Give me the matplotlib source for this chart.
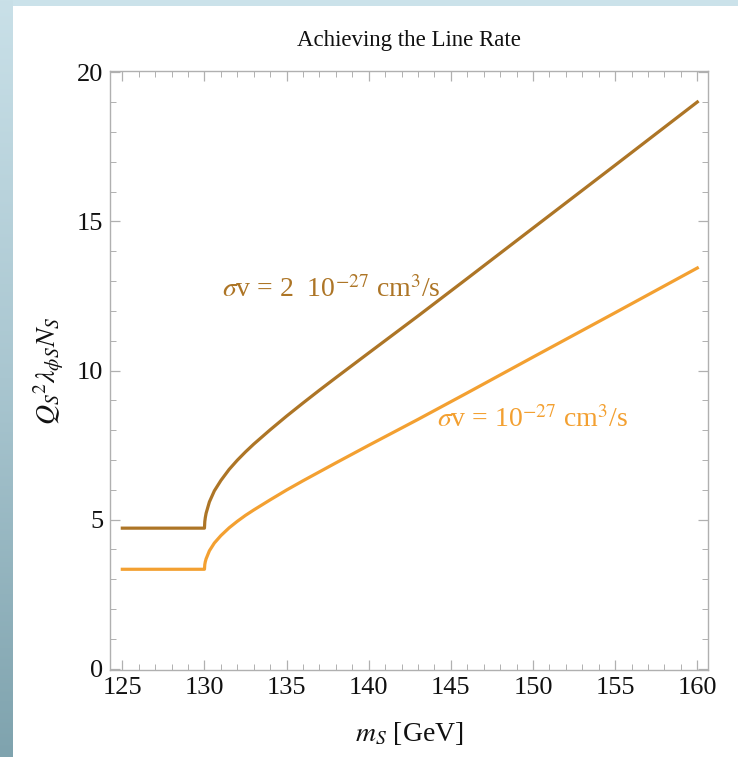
import numpy as np
import matplotlib
matplotlib.use("Agg")
import matplotlib.pyplot as plt
from matplotlib.patches import Rectangle
from matplotlib.ticker import MultipleLocator

plt.rcParams["font.family"] = ["Liberation Serif", "DejaVu Serif"]
plt.rcParams["mathtext.fontset"] = "stix"

# ── DATA ───────────────────────────────────────────────────────────────────
m_s = [125, 130, 130.02, 130.05, 130.1, 130.3, 130.6, 131, 131.5, 132, 132.5,
       133, 134, 135, 136, 137, 138, 140, 143, 146, 150, 155, 160]
rate_2e27 = [4.71, 4.71, 4.93, 5.06, 5.21, 5.59, 5.96, 6.31, 6.68, 6.99, 7.27,
             7.53, 8.01, 8.47, 8.91, 9.34, 9.76, 10.59, 11.83, 13.09, 14.78,
             16.89, 19.01]
rate_1e27 = [3.33, 3.33, 3.49, 3.58, 3.68, 3.95, 4.21, 4.46, 4.72, 4.94, 5.14,
             5.32, 5.66, 5.99, 6.30, 6.60, 6.90, 7.49, 8.36, 9.25, 10.45,
             11.94, 13.44]
x_ticks = [125, 130, 135, 140, 145, 150, 155, 160]
y_ticks = [0, 5, 10, 15, 20]

DARK = "#ad7526"
ORANGE = "#f3a031"

# ── FIGURE + slide background ──────────────────────────────────────────────
W, H = 738, 757
fig = plt.figure(figsize=(W / 100, H / 100), dpi=100, facecolor="#cbe2ea")
bg = fig.add_axes([0, 0, 1, 1], zorder=-10)
bg.set_axis_off()
grad = np.linspace(0, 1, 256).reshape(-1, 1)
bg.imshow(grad, aspect="auto", extent=[0, 13 / W, 0, 1], origin="upper",
          cmap=matplotlib.colors.LinearSegmentedColormap.from_list(
              "slide", ["#c9e0e8", "#a9c6d0", "#7fa3ae"]))
bg.set_xlim(0, 1)
bg.set_ylim(0, 1)
bg.add_patch(Rectangle((13 / W, 0), 1 - 13 / W, 1 - 6 / H,
                       facecolor="white", edgecolor="none"))

# ── PLOT ───────────────────────────────────────────────────────────────────
ax = fig.add_axes([110 / W, 1 - 670 / H, (708 - 110) / W, (670 - 71) / H])
ax.set_facecolor("white")
ax.plot(m_s, rate_2e27, color=DARK, lw=2.3, solid_joinstyle="round")
ax.plot(m_s, rate_1e27, color=ORANGE, lw=2.3, solid_joinstyle="round")

ax.set_xlim(124.25, 160.65)
ax.set_ylim(-0.05, 20.05)
ax.xaxis.set_minor_locator(MultipleLocator(1))
ax.yaxis.set_minor_locator(MultipleLocator(1))
ax.set_xticks(x_ticks)
ax.set_yticks(y_ticks)
ax.tick_params(which="both", direction="in", top=True, right=True,
               color="#b0b0b0", labelsize=19, labelcolor="#111111")
ax.tick_params(which="major", length=7, width=0.9, pad=5)
ax.tick_params(which="minor", length=4, width=0.7)
for sp in ax.spines.values():
    sp.set_color("#b0b0b0")
    sp.set_linewidth(1.0)

ax.set_title("Achieving the Line Rate", fontsize=16.5, color="#111111", pad=18)
ax.set_xlabel(r"$m_S$ [GeV]", fontsize=20, color="#111111", labelpad=15)
ax.set_ylabel(r"$Q_S{}^2\lambda_{\phi S}N_S$", fontsize=20, color="#111111",
              labelpad=8)

ax.text(131.07, 12.45, r"$\sigma$v = 2  10$^{-27}$ cm$^3$/s", color=DARK,
        fontsize=20, va="baseline", ha="left")
ax.text(144.15, 8.1, r"$\sigma$v = 10$^{-27}$ cm$^3$/s", color=ORANGE,
        fontsize=20, va="baseline", ha="left")

fig.savefig("out.png", dpi=100, facecolor=fig.get_facecolor())
